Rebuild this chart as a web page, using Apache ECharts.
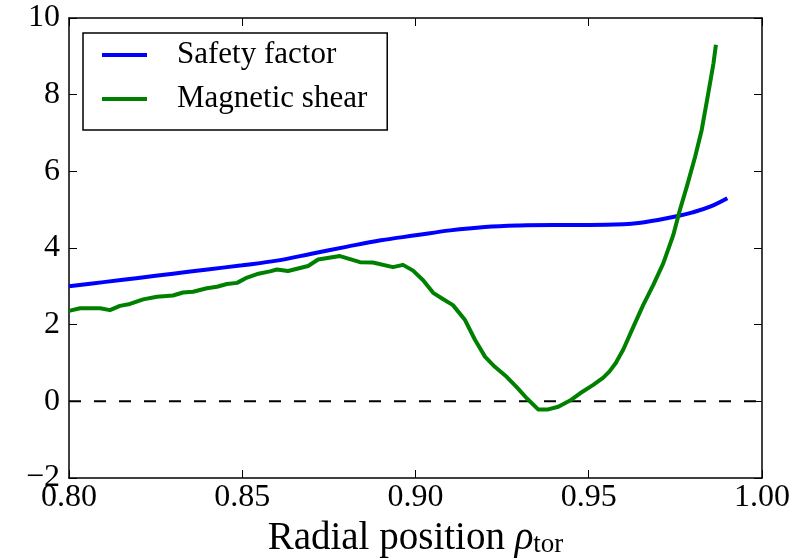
<!DOCTYPE html>
<html>
<head>
<meta charset="utf-8">
<script src="https://cdn.jsdelivr.net/npm/echarts@6/dist/echarts.min.js"></script>
<style>
html,body{margin:0;padding:0;background:#fff;}
#chart{width:806px;height:558px;}
</style>
</head>
<body>
<div id="chart"></div>
<script>
// Safety factor q(rho)
var rhoQ = [0.80, 0.81, 0.82, 0.83, 0.84, 0.85, 0.86, 0.87, 0.88, 0.89, 0.90, 0.91, 0.92, 0.93, 0.94, 0.95, 0.96, 0.965, 0.97, 0.975, 0.98, 0.985, 0.99];
var safetyFactor = [3.00, 3.11, 3.22, 3.33, 3.44, 3.55, 3.67, 3.85, 4.03, 4.20, 4.33, 4.46, 4.55, 4.59, 4.60, 4.60, 4.62, 4.66, 4.73, 4.82, 4.93, 5.08, 5.30];

// Magnetic shear s(rho)
var rhoS = [0.8000, 0.8032, 0.8090, 0.8118, 0.8147, 0.8176, 0.8214, 0.8254, 0.8300, 0.8329, 0.8358, 0.8398, 0.8427, 0.8456, 0.8485, 0.8514, 0.8543, 0.8580, 0.8600, 0.8632, 0.8690, 0.8719, 0.8782, 0.8840, 0.8877, 0.8935, 0.8964, 0.8993, 0.9022, 0.9051, 0.9079, 0.9108, 0.9143, 0.9172, 0.9201, 0.9229, 0.9263, 0.9292, 0.9321, 0.9354, 0.9383, 0.9412, 0.9446, 0.9475, 0.9513, 0.9542, 0.9560, 0.9578, 0.9600, 0.9629, 0.9657, 0.9686, 0.9715, 0.9744, 0.9763, 0.9783, 0.9807, 0.9826, 0.9845, 0.9860, 0.9867];
var magneticShear = [2.36, 2.43, 2.43, 2.38, 2.49, 2.54, 2.66, 2.73, 2.76, 2.84, 2.86, 2.95, 2.99, 3.06, 3.09, 3.23, 3.32, 3.39, 3.44, 3.40, 3.53, 3.70, 3.79, 3.63, 3.62, 3.50, 3.56, 3.41, 3.16, 2.83, 2.67, 2.51, 2.12, 1.60, 1.16, 0.90, 0.64, 0.37, 0.08, -0.21, -0.21, -0.14, 0.02, 0.21, 0.43, 0.62, 0.78, 1.00, 1.36, 1.95, 2.51, 3.03, 3.60, 4.34, 4.99, 5.60, 6.38, 7.08, 8.04, 8.82, 9.30];

// Reference line
var zeroX = [0.80, 1.00];
var zeroY = [0, 0];

var xTicks = {min: 0.80, max: 1.00, interval: 0.05};
var yTicks = {min: -2, max: 10, interval: 2};
var seriesNames = ['Safety factor', 'Magnetic shear'];

function zip(a, b) { return a.map(function (v, i) { return [v, b[i]]; }); }

var FONT = '"Liberation Serif", "DejaVu Serif", serif';
var chart = echarts.init(document.getElementById('chart'), null, {renderer: 'canvas'});

var axisLine = {show: true, onZero: false, lineStyle: {color: '#000', width: 1.5}};
var tick = {show: true, inside: true, length: 8, lineStyle: {color: '#000', width: 1}};

chart.setOption({
  animation: false,
  backgroundColor: '#fff',
  grid: {left: 69, right: 44, top: 18, bottom: 80, containLabel: false, outerBoundsMode: 'none'},
  legend: {
    data: seriesNames,
    orient: 'vertical',
    left: 83, top: 33,
    backgroundColor: '#fff',
    borderColor: '#000', borderWidth: 1.5, borderRadius: 0,
    padding: [5, 20, 14, 19],
    itemGap: 10,
    icon: 'rect',
    itemWidth: 45, itemHeight: 4,
    textStyle: {fontFamily: FONT, fontSize: 31, color: '#000', lineHeight: 34, padding: [0, 0, 0, 25]}
  },
  xAxis: [{
    type: 'value', min: xTicks.min, max: xTicks.max, interval: xTicks.interval,
    position: 'bottom',
    axisLine: axisLine, axisTick: tick, splitLine: {show: false},
    axisLabel: {fontFamily: FONT, fontSize: 32, color: '#000', margin: 4,
      formatter: function (v) { return v.toFixed(2); }},
    name: '{a|Radial position }{b|ρ}{c|tor}',
    nameLocation: 'middle', nameGap: 34,
    nameTextStyle: {rich: {
      a: {fontFamily: FONT, fontSize: 39, color: '#000'},
      b: {fontFamily: FONT, fontSize: 39, color: '#000', fontStyle: 'italic'},
      c: {fontFamily: FONT, fontSize: 27, color: '#000', padding: [13, 0, 0, 0]}
    }}
  }, {
    type: 'value', min: xTicks.min, max: xTicks.max, interval: xTicks.interval,
    position: 'top',
    axisLine: axisLine, axisTick: tick, splitLine: {show: false},
    axisLabel: {show: false}
  }],
  yAxis: [{
    type: 'value', min: yTicks.min, max: yTicks.max, interval: yTicks.interval,
    position: 'left',
    axisLine: axisLine, axisTick: tick, splitLine: {show: false},
    axisLabel: {fontFamily: FONT, fontSize: 32, color: '#000', margin: 9,
      formatter: function (v) { return v < 0 ? '\u2212' + Math.abs(v) : String(v); }}
  }, {
    type: 'value', min: yTicks.min, max: yTicks.max, interval: yTicks.interval,
    position: 'right',
    axisLine: axisLine, axisTick: tick, splitLine: {show: false},
    axisLabel: {show: false}
  }],
  series: [{
    name: 'zero', type: 'line', data: zip(zeroX, zeroY),
    showSymbol: false, symbol: 'none', silent: true,
    lineStyle: {color: '#000', width: 2, type: [12, 13]}
  }, {
    name: seriesNames[0], type: 'line', data: zip(rhoQ, safetyFactor),
    smooth: 0.4, symbol: 'none', showSymbol: false,
    itemStyle: {color: '#0000ff'},
    lineStyle: {color: '#0000ff', width: 4}
  }, {
    name: seriesNames[1], type: 'line', data: zip(rhoS, magneticShear),
    smooth: false, symbol: 'none', showSymbol: false,
    itemStyle: {color: '#008000'},
    lineStyle: {color: '#008000', width: 4, join: 'round'}
  }]
});
</script>
</body>
</html>
